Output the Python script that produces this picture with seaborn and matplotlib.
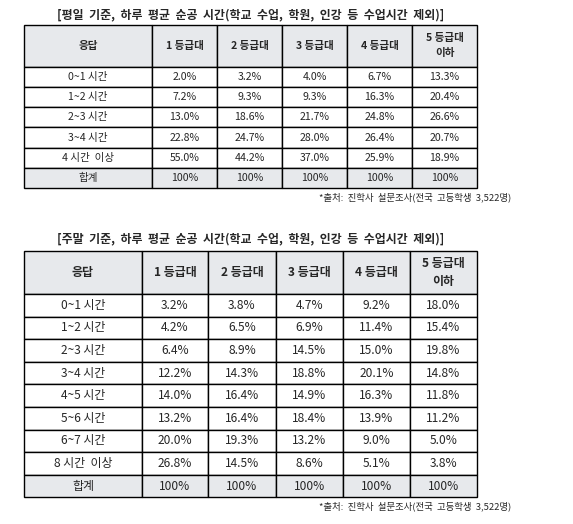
import matplotlib
matplotlib.use("Agg")
import matplotlib.pyplot as plt
import seaborn as sns
from matplotlib.patches import Rectangle

sns.set_theme(style="white")
plt.rcParams["font.family"] = ["Noto Sans CJK KR", "DejaVu Sans"]

columns = ["응답", "1 등급대", "2 등급대", "3 등급대", "4 등급대", "5 등급대\n이하"]

weekday_title = "[평일  기준,  하루  평균  순공  시간(학교  수업,  학원,  인강  등  수업시간  제외)]"
weekday_rows = ["0~1 시간", "1~2 시간", "2~3 시간", "3~4 시간", "4 시간  이상", "합계"]
weekday_vals = [
    ["2.0%", "3.2%", "4.0%", "6.7%", "13.3%"],
    ["7.2%", "9.3%", "9.3%", "16.3%", "20.4%"],
    ["13.0%", "18.6%", "21.7%", "24.8%", "26.6%"],
    ["22.8%", "24.7%", "28.0%", "26.4%", "20.7%"],
    ["55.0%", "44.2%", "37.0%", "25.9%", "18.9%"],
    ["100%", "100%", "100%", "100%", "100%"],
]

weekend_title = "[주말  기준,  하루  평균  순공  시간(학교  수업,  학원,  인강  등  수업시간  제외)]"
weekend_rows = ["0~1 시간", "1~2 시간", "2~3 시간", "3~4 시간", "4~5 시간",
                "5~6 시간", "6~7 시간", "8 시간  이상", "합계"]
weekend_vals = [
    ["3.2%", "3.8%", "4.7%", "9.2%", "18.0%"],
    ["4.2%", "6.5%", "6.9%", "11.4%", "15.4%"],
    ["6.4%", "8.9%", "14.5%", "15.0%", "19.8%"],
    ["12.2%", "14.3%", "18.8%", "20.1%", "14.8%"],
    ["14.0%", "16.4%", "14.9%", "16.3%", "11.8%"],
    ["13.2%", "16.4%", "18.4%", "13.9%", "11.2%"],
    ["20.0%", "19.3%", "13.2%", "9.0%", "5.0%"],
    ["26.8%", "14.5%", "8.6%", "5.1%", "3.8%"],
    ["100%", "100%", "100%", "100%", "100%"],
]

source = "*출처:  진학사  설문조사(전국  고등학생  3,522명)"

GRAY = "#e7e9ec"


def draw_table(ax, title, rows, vals, xs, top, head_h, row_h, fs, title_y, note_y):
    ax.text((xs[0] + xs[-1]) / 2, title_y, title, ha="center", va="center",
            fontsize=8.6, fontweight="bold")
    # header
    for j, col in enumerate(columns):
        ax.add_patch(Rectangle((xs[j], top), xs[j + 1] - xs[j], head_h,
                               facecolor=GRAY, edgecolor="black", lw=1.0))
        ax.text((xs[j] + xs[j + 1]) / 2, top + head_h / 2, col, ha="center",
                va="center", fontsize=fs, fontweight="bold", linespacing=1.6)
    # body
    for i, (lab, row) in enumerate(zip(rows, vals)):
        y = top + head_h + i * row_h
        fc = GRAY if i == len(rows) - 1 else "white"
        cells = [lab] + row
        for j, txt in enumerate(cells):
            ax.add_patch(Rectangle((xs[j], y), xs[j + 1] - xs[j], row_h,
                                   facecolor=fc, edgecolor="black", lw=1.0))
            ax.text((xs[j] + xs[j + 1]) / 2, y + row_h / 2, txt, ha="center",
                    va="center", fontsize=fs)
    ax.text(511, note_y, source, ha="right", va="center", fontsize=6.8)


fig = plt.figure(figsize=(5.73, 5.24), dpi=100)
ax = fig.add_axes([0, 0, 1, 1])
ax.set_xlim(0, 573)
ax.set_ylim(524, 0)
ax.axis("off")

draw_table(ax, weekday_title, weekday_rows, weekday_vals,
           [24, 152, 217, 282, 347, 412, 477], 25, 41.5, 20.3, 7.6, 15, 197)
draw_table(ax, weekend_title, weekend_rows, weekend_vals,
           [24, 142, 208, 276, 343, 410, 477], 251, 43, 22.6, 8.6, 239, 506)

fig.savefig("out.png", dpi=100)
